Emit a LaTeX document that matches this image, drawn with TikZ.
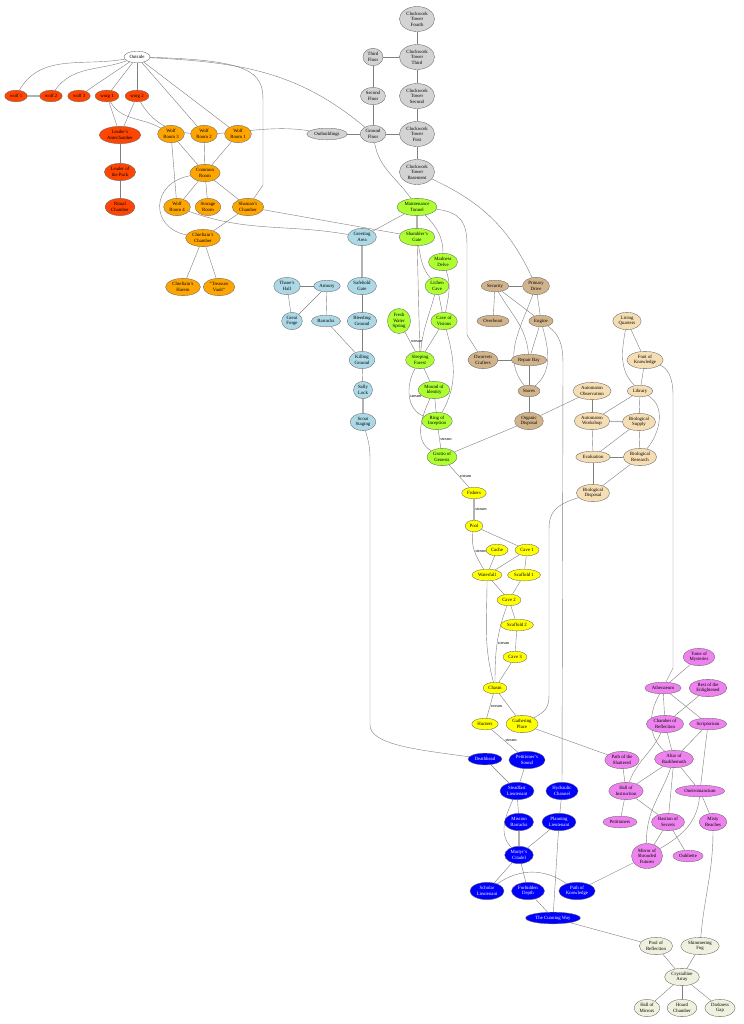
\documentclass[tikz,border=0pt]{standalone}
\usepackage{fontspec}
\setmainfont{Liberation Serif}
\usepackage{tikz}
\usetikzlibrary{shapes,backgrounds}
\usepackage{xcolor}
\definecolor{packred}{RGB}{255,69,0}
\definecolor{denorange}{RGB}{255,165,0}
\definecolor{towergray}{RGB}{211,211,211}
\definecolor{holdblue}{RGB}{173,216,230}
\definecolor{grovegreen}{RGB}{173,255,47}
\definecolor{geartan}{RGB}{210,180,140}
\definecolor{labwheat}{RGB}{245,222,179}
\definecolor{streamyellow}{RGB}{255,255,0}
\definecolor{citadelblue}{RGB}{0,0,255}
\definecolor{loreviolet}{RGB}{238,130,238}
\definecolor{crystalbeige}{RGB}{240,240,222}
\newcommand{\roomfont}{\fontsize{4.1}{4.6}\selectfont}
\newcommand{\streamfont}{\fontsize{3.6}{4}\selectfont}

\begin{document}
\begin{tikzpicture}[x=0.03cm, y=-0.03cm]
            \tikzstyle{room} = [ellipse, draw=black!60, line width=0.3pt, inner xsep=1.5pt, inner ysep=0pt, minimum width=4.6mm, minimum height=3.5mm, align=center, font=\roomfont]
            \tikzstyle{tall} = [minimum height=5.2mm]
            \tikzstyle{taller} = [minimum height=7.5mm]
            \tikzstyle{packroom} = [room, fill=packred]
            \tikzstyle{denroom} = [room, fill=denorange]
            \tikzstyle{towerroom} = [room, fill=towergray]
            \tikzstyle{holdroom} = [room, fill=holdblue]
            \tikzstyle{groveroom} = [room, fill=grovegreen]
            \tikzstyle{gearroom} = [room, fill=geartan]
            \tikzstyle{labroom} = [room, fill=labwheat]
            \tikzstyle{streamroom} = [room, fill=streamyellow]
            \tikzstyle{citadelroom} = [room, fill=citadelblue, text=white]
            \tikzstyle{loreroom} = [room, fill=loreviolet]
            \tikzstyle{crystalroom} = [room, fill=crystalbeige]
            \tikzstyle{link} = [draw=black!50, line width=0.35pt]
            \tikzstyle{twinlink} = [draw=black!30, line width=1pt]
            \tikzstyle{streamlbl} = [font=\streamfont, inner sep=0.6pt]
            \useasboundingbox (0,0) rectangle (743,1024);

            \node[room, fill=white] (outside) at (137, 57) {Outside};
            \node[packroom] (wolfA) at (16, 96) {wolf 1};
            \node[packroom] (wolfB) at (51, 96) {wolf 2};
            \node[packroom] (wolfC) at (79, 96) {wolf 3};
            \node[packroom] (worgA) at (107, 96) {worg 1};
            \node[packroom] (worgB) at (137, 96) {worg 2};
            \node[packroom, tall] (ante) at (120, 135) {Leader's\\Antechamber};
            \node[packroom, tall] (leader) at (120, 172) {Leader of\\the Pack};
            \node[packroom, tall] (ritual) at (120, 207) {Ritual\\Chamber};
            \node[denroom, tall] (wroomC) at (171, 134) {Wolf\\Room 3};
            \node[denroom, tall] (wroomB) at (204, 134) {Wolf\\Room 2};
            \node[denroom, tall] (wroomA) at (238, 134) {Wolf\\Room 1};
            \node[denroom, tall] (common) at (205, 173) {Common\\Room};
            \node[denroom, tall] (wroomD) at (177, 207) {Wolf\\Room 4};
            \node[denroom, tall] (storage) at (208, 207) {Storage\\Room};
            \node[denroom, tall] (shaman) at (248, 207) {Shaman's\\Chamber};
            \node[denroom, tall] (chief) at (203, 238) {Chieftain's\\Chamber};
            \node[denroom, tall] (harem) at (183, 287) {Chieftain's\\Harem};
            \node[denroom, tall] (vault) at (219, 287) {“Treasure\\Vault”};

            \node[towerroom, taller] (ctfourth) at (417, 19) {Clockwork\\Tower\\Fourth};
            \node[towerroom, taller] (ctthird) at (417, 57) {Clockwork\\Tower\\Third};
            \node[towerroom, taller] (ctsecond) at (417, 96) {Clockwork\\Tower\\Second};
            \node[towerroom, taller] (ctfirst) at (417, 134) {Clockwork\\Tower\\First};
            \node[towerroom, taller] (ctbase) at (417, 172) {Clockwork\\Tower\\Basement};
            \node[towerroom, tall] (thirdfl) at (373, 57) {Third\\Floor};
            \node[towerroom, tall] (secondfl) at (373, 96) {Second\\Floor};
            \node[towerroom, tall] (ground) at (373, 134) {Ground\\Floor};
            \node[towerroom] (outb) at (327, 134) {Outbuildings};

            \node[holdroom, tall] (greet) at (362, 237) {Greeting\\Area};
            \node[holdroom, tall] (thane) at (287, 286) {Thane's\\Hall};
            \node[holdroom] (armory) at (327, 286) {Armory};
            \node[holdroom, tall] (forge) at (292, 321) {Great\\Forge};
            \node[holdroom] (barracks) at (326, 321) {Barracks};
            \node[holdroom, tall] (safehold) at (362, 286) {Safehold\\Gate};
            \node[holdroom, tall] (bleeding) at (362, 321) {Bleeding\\Ground};
            \node[holdroom, tall] (killing) at (362, 360) {Killing\\Ground};
            \node[holdroom, tall] (sally) at (363, 390) {Sally\\Lock};
            \node[holdroom, tall] (scout) at (363, 422) {Scout\\Staging};

            \node[groveroom, tall] (maint) at (417, 207) {Maintenance\\Tunnel};
            \node[groveroom, tall] (shgate) at (417, 237) {Shambler's\\Gate};
            \node[groveroom, tall] (madness) at (443, 262) {Madness\\Delve};
            \node[groveroom, tall] (lichen) at (437, 286) {Lichen\\Cave};
            \node[groveroom, tall] (visions) at (444, 321) {Cave of\\Visions};
            \node[groveroom, taller] (fresh) at (399, 321) {Fresh\\Water\\Spring};
            \node[groveroom, tall] (sleeping) at (420, 360) {Sleeping\\Forest};
            \node[groveroom, tall] (mound) at (434, 390) {Mound of\\Identity};
            \node[groveroom, tall] (ring) at (437, 421) {Ring of\\Inception};
            \node[groveroom, tall] (grotto) at (442, 457) {Grotto of\\Genesis};

            \node[gearroom] (security) at (495, 286) {Security};
            \node[gearroom, tall] (pdrive) at (536, 286) {Primary\\Drive};
            \node[gearroom] (overheart) at (493, 321) {Overheart};
            \node[gearroom] (engine) at (541, 321) {Engine};
            \node[gearroom, tall] (dwarven) at (483, 360) {Dwarven\\Crafters};
            \node[gearroom] (repair) at (529, 360) {Repair Bay};
            \node[gearroom] (stores) at (529, 391) {Stores};
            \node[gearroom, tall] (organic) at (529, 421) {Organic\\Disposal};

            \node[labroom, tall] (living) at (627, 321) {Living\\Quarters};
            \node[labroom, tall] (font) at (645, 360) {Font of\\Knowledge};
            \node[labroom] (library) at (640, 391) {Library};
            \node[labroom, tall] (aobs) at (592, 391) {Automaton\\Observation};
            \node[labroom, tall] (aworks) at (592, 421) {Automaton\\Workshop};
            \node[labroom, tall] (biosupply) at (639, 422) {Biological\\Supply};
            \node[labroom] (eval) at (593, 457) {Evaluation};
            \node[labroom, tall] (bioresearch) at (640, 457) {Biological\\Research};
            \node[labroom, tall] (biodisp) at (593, 493) {Biological\\Disposal};

            \node[streamroom] (fishers) at (474, 493) {Fishers};
            \node[streamroom] (pool) at (474, 526) {Pool};
            \node[streamroom] (cache) at (497, 550) {Cache};
            \node[streamroom] (caveA) at (527, 550) {Cave 1};
            \node[streamroom] (waterfall) at (487, 575) {Waterfall};
            \node[streamroom] (scaffA) at (524, 575) {Scaffold 1};
            \node[streamroom] (caveB) at (509, 600) {Cave 2};
            \node[streamroom] (scaffB) at (517, 625) {Scaffold 2};
            \node[streamroom] (caveC) at (515, 657) {Cave 3};
            \node[streamroom] (chasm) at (495, 688) {Chasm};
            \node[streamroom] (hunters) at (485, 724) {Hunters};
            \node[streamroom, tall] (gathering) at (522, 724) {Gathering\\Place};

            \node[citadelroom] (deathhead) at (485, 759) {Deathhead};
            \node[citadelroom, tall] (psound) at (527, 760) {Petitioner's\\Sound};
            \node[citadelroom, tall] (steadfast) at (517, 791) {Steadfast\\Lieutenant};
            \node[citadelroom, tall] (hydraulic) at (562, 791) {Hydraulic\\Channel};
            \node[citadelroom, tall] (mission) at (519, 822) {Mission\\Barracks};
            \node[citadelroom, tall] (planning) at (559, 822) {Planning\\Lieutenant};
            \node[citadelroom, tall] (martyr) at (519, 855) {Martyr's\\Citadel};
            \node[citadelroom, tall] (scholar) at (487, 891) {Scholar\\Lieutenant};
            \node[citadelroom, tall] (forbidden) at (528, 891) {Forbidden\\Depth};
            \node[citadelroom, tall] (pknow) at (577, 891) {Path of\\Knowledge};
            \node[citadelroom] (cunning) at (553, 918) {The Cunning Way};

            \node[loreroom, tall] (tome) at (699, 657) {Tome of\\Mysteries};
            \node[loreroom] (athen) at (663, 688) {Athenaeum};
            \node[loreroom, tall] (rest) at (708, 688) {Rest of the\\Enlightened};
            \node[loreroom, tall] (reflect) at (665, 724) {Chamber of\\Reflection};
            \node[loreroom] (script) at (708, 724) {Scriptorium};
            \node[loreroom, tall] (shattered) at (622, 760) {Path of the\\Shattered};
            \node[loreroom, tall] (altar) at (674, 759) {Altar of\\Bashhemoth};
            \node[loreroom, tall] (instruct) at (626, 791) {Hall of\\Instruction};
            \node[loreroom] (oneiro) at (700, 791) {Oneiromancium};
            \node[loreroom] (petitioners) at (620, 822) {Petitioners};
            \node[loreroom, tall] (bastion) at (668, 822) {Bastion of\\Secrets};
            \node[loreroom, tall] (misty) at (713, 822) {Misty\\Reaches};
            \node[loreroom, taller] (mirror) at (647, 856) {Mirror of\\Shrouded\\Futures};
            \node[loreroom] (oubliette) at (688, 856) {Oubliette};

            \node[crystalroom, tall] (poolrefl) at (656, 946) {Pool of\\Reflection};
            \node[crystalroom, tall] (fog) at (700, 946) {Shimmering\\Fog};
            \node[crystalroom, tall] (crystal) at (682, 977) {Crystalline\\Array};
            \node[crystalroom, tall] (mirrors) at (647, 1008) {Hall of\\Mirrors};
            \node[crystalroom, tall] (hoard) at (682, 1008) {Hoard\\Chamber};
            \node[crystalroom, tall] (darkgap) at (720, 1008) {Darkness\\Gap};

            \begin{scope}[on background layer]
            \draw[link] (outside) to[out=190, in=60] (wolfA);
            \draw[link] (outside) to[out=200, in=55] (wolfB);
            \draw[link] (outside) -- (wolfC);
            \draw[link] (outside) -- (worgA);
            \draw[link] (outside) -- (worgB);
            \draw[link] (outside) -- (wroomB);
            \draw[link] (outside) -- (wroomA);
            \draw[link] (outside) to[out=-3, in=140] (ground);
            \draw[link] (outside) .. controls (250, 60) and (263, 72) .. (263, 100) -- (263, 185) -- (shaman);
            \draw[twinlink] (wolfA) -- (wolfB);
            \draw[link] (worgA) -- (ante);
            \draw[link] (worgB) -- (ante);
            \draw[link] (worgA) to[out=-60, in=150] (wroomC);
            \draw[link] (worgB) to[out=-60, in=170] (outb);
            \draw[link] (ante) -- (leader);
            \draw[link] (leader) -- (ritual);
            \draw[link] (wroomC) -- (common);
            \draw[link] (wroomB) -- (common);
            \draw[link] (wroomA) -- (common);
            \draw[link] (wroomC) -- (wroomD);
            \draw[link] (common) -- (wroomD);
            \draw[link] (common) -- (storage);
            \draw[link] (common) -- (shaman);
            \draw[link] (common) .. controls (150, 183) and (150, 228) .. (chief);
            \draw[link] (shaman) -- (chief);
            \draw[link] (chief) -- (harem);
            \draw[link] (chief) -- (vault);
            \draw[link] (wroomD) to[out=-20, in=170] (greet);
            \draw[link] (shaman) -- (shgate);

            \draw[link] (ctfourth) -- (ctthird);
            \draw[link] (ctthird) -- (ctsecond);
            \draw[link] (ctsecond) -- (ctfirst);
            \draw[link] (ctfirst) -- (ctbase);
            \draw[link] (thirdfl) -- (ctthird);
            \draw[link] (thirdfl) -- (secondfl);
            \draw[link] (secondfl) -- (ground);
            \draw[link] (ground) -- (ctfirst);
            \draw[link] (outb) -- (ground);
            \draw[link] (ground) to[out=-80, in=125] (maint);
            \draw[link] (ctbase) to[out=-25, in=115] (pdrive);

            \draw[link] (maint) -- (greet);
            \draw[twinlink] (maint) -- (shgate);
            \draw[link] (maint) to[out=-45, in=90] (madness);
            \draw[link] (maint) .. controls (460, 212) and (467, 222) .. (467, 245) -- (467, 335) -- (dwarven);
            \draw[twinlink] (greet) -- (safehold);
            \draw[link] (safehold) -- (bleeding);
            \draw[link] (bleeding) -- (killing);
            \draw[link] (killing) -- (sally);
            \draw[twinlink] (sally) -- (scout);
            \draw[link] (thane) -- (armory);
            \draw[link] (thane) -- (forge);
            \draw[link] (armory) -- (forge);
            \draw[link] (armory) -- (barracks);
            \draw[link] (barracks) -- (killing);
            \draw[link] (scout) .. controls (368, 440) and (370, 445) .. (370, 460) -- (370, 725) .. controls (370, 745) and (420, 750) .. (deathhead);

            \draw[link] (shgate) to[out=-80, in=130] (lichen);
            \draw[link] (shgate) -- (sleeping);
            \draw[link] (lichen) to[out=-105, in=85] (sleeping);
            \draw[link] (lichen) -- (visions);
            \draw[link] (madness) to[out=-70, in=80] (visions);
            \draw[link] (visions) -- (sleeping);
            \draw[link] (visions) to[out=-75, in=60] (ring);
            \draw[link] (fresh) -- node[streamlbl, right] {stream} (sleeping);
            \draw[link] (sleeping) -- (mound);
            \draw[link] (sleeping) to[out=-120, in=160] node[streamlbl, right] {stream} (ring);
            \draw[link] (mound) -- (ring);
            \draw[link] (mound) to[out=-115, in=150] (grotto);
            \draw[link] (ring) -- node[streamlbl, right] {stream} (grotto);
            \draw[link] (organic) -- (grotto);
            \draw[link] (grotto) -- node[streamlbl, right] {stream} (fishers);
            \draw[twinlink] (fishers) -- node[streamlbl, right, text=black] {stream} (pool);
            \draw[link] (pool) -- (caveA);
            \draw[link] (pool) to[out=-100, in=120] node[streamlbl, right] {stream} (waterfall);
            \draw[link] (cache) -- (waterfall);
            \draw[link] (caveA) -- (waterfall);
            \draw[link] (caveA) -- (scaffA);
            \draw[link] (waterfall) -- (caveB);
            \draw[link] (scaffA) -- (caveB);
            \draw[link] (caveB) -- (scaffB);
            \draw[link] (scaffB) -- (caveC);
            \draw[link] (caveC) -- (chasm);
            \draw[link] (caveB) to[out=-110, in=90] node[streamlbl, right] {stream} (chasm);
            \draw[link] (waterfall) to[out=-90, in=105] (chasm);
            \draw[link] (chasm) -- node[streamlbl, right] {stream} (hunters);
            \draw[link] (chasm) -- (gathering);
            \draw[link] (hunters) -- node[streamlbl, right] {stream} (psound);
            \draw[link] (gathering) -- (shattered);
            \draw[link] (biodisp) .. controls (555, 505) and (549, 512) .. (549, 530) -- (549, 695) .. controls (549, 708) and (545, 712) .. (gathering);

            \draw[link] (security) -- (pdrive);
            \draw[link] (security) -- (overheart);
            \draw[link] (security) -- (engine);
            \draw[link] (security) to[out=-60, in=95] (repair);
            \draw[link] (pdrive) -- (engine);
            \draw[link] (pdrive) to[out=-110, in=130] (stores);
            \draw[link] (engine) -- (repair);
            \draw[link] (engine) to[out=-75, in=40] (stores);
            \draw[link] (engine) .. controls (560, 335) and (563, 345) .. (563, 365) -- (hydraulic);
            \draw[link] (dwarven) -- (repair);
            \draw[link] (repair) -- (stores);
            \draw[link] (stores) -- (organic);
            \draw[link] (aobs) -- (organic);

            \draw[link] (living) -- (font);
            \draw[link] (living) to[out=-100, in=135] (library);
            \draw[link] (font) -- (library);
            \draw[link] (font) .. controls (668, 368) and (673, 378) .. (673, 395) -- (673, 668) -- (athen);
            \draw[link] (library) -- (aworks);
            \draw[link] (library) -- (biosupply);
            \draw[link] (library) to[out=-30, in=50] (bioresearch);
            \draw[link] (aobs) -- (aworks);
            \draw[twinlink] (aworks) -- (biosupply);
            \draw[link] (aworks) -- (eval);
            \draw[link] (biosupply) -- (eval);
            \draw[link] (biosupply) -- (bioresearch);
            \draw[link] (eval) -- (bioresearch);
            \draw[link] (eval) -- (biodisp);
            \draw[link] (bioresearch) -- (biodisp);

            \draw[link] (deathhead) -- (steadfast);
            \draw[link] (psound) -- (steadfast);
            \draw[link] (steadfast) -- (mission);
            \draw[link] (steadfast) to[out=-115, in=135] (martyr);
            \draw[link] (hydraulic) -- (planning);
            \draw[twinlink] (mission) -- (martyr);
            \draw[link] (planning) -- (martyr);
            \draw[link] (planning) -- (cunning);
            \draw[link] (martyr) -- (scholar);
            \draw[link] (martyr) -- (forbidden);
            \draw[link] (forbidden) -- (cunning);
            \draw[link] (scholar) to[out=35, in=145] (pknow);
            \draw[link] (cunning) -- (poolrefl);

            \draw[link] (tome) -- (athen);
            \draw[link] (rest) -- (reflect);
            \draw[link] (athen) -- (reflect);
            \draw[link] (athen) -- (script);
            \draw[link] (athen) to[out=-120, in=140] (altar);
            \draw[link] (reflect) -- (altar);
            \draw[link] (reflect) to[out=-115, in=70] (instruct);
            \draw[link] (script) -- (altar);
            \draw[link] (script) -- (oneiro);
            \draw[link] (shattered) -- (instruct);
            \draw[link] (altar) -- (instruct);
            \draw[link] (altar) -- (oneiro);
            \draw[link] (altar) -- (bastion);
            \draw[link] (altar) to[out=-110, in=92] (mirror);
            \draw[link] (instruct) -- (petitioners);
            \draw[link] (instruct) -- (bastion);
            \draw[link] (oneiro) -- (misty);
            \draw[link] (oneiro) to[out=-95, in=30] (mirror);
            \draw[link] (bastion) -- (mirror);
            \draw[link] (bastion) -- (oubliette);
            \draw[link] (mirror) -- (pknow);
            \draw[link] (misty) to[out=-90, in=85] (fog);

            \draw[link] (poolrefl) -- (crystal);
            \draw[link] (fog) -- (crystal);
            \draw[link] (crystal) -- (mirrors);
            \draw[link] (crystal) -- (hoard);
            \draw[link] (crystal) -- (darkgap);
            \end{scope}
        \end{tikzpicture}
\end{document}
